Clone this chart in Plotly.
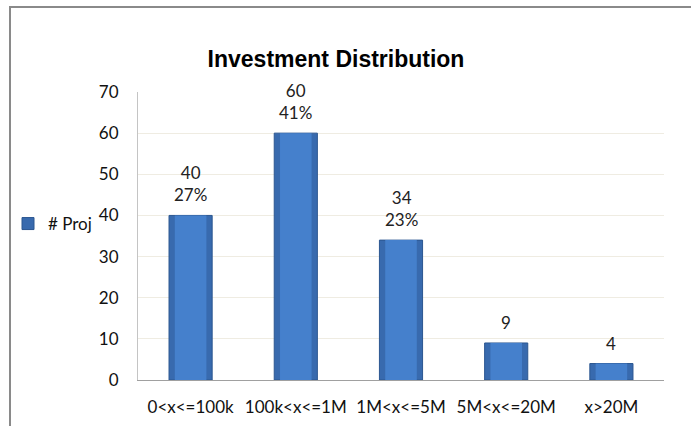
import plotly.graph_objects as go

categories = ["0<x<=100k", "100k<x<=1M", "1M<x<=5M", "5M<x<=20M", "x>20M"]
projects = [40, 60, 34, 9, 4]
percent_labels = ["27%", "41%", "23%", "", ""]
series_name = "# Proj"
title_text = "Investment Distribution"
y_ticks = [0, 10, 20, 30, 40, 50, 60, 70]

W, H = 691, 426
L, R, T, B = 138, 27, 92, 46
pw, ph = W - L - R, H - T - B

def px_x(p):
    return (p - L) / pw

def px_y(p):
    return (H - B - p) / ph

label_texts = [f"{v}<br>{p}" if p else f"{v}" for v, p in zip(projects, percent_labels)]

fig = go.Figure()
fig.add_trace(go.Bar(
    x=categories, y=projects, name=series_name, width=0.41,
    marker=dict(color="#386aae", line=dict(color="#2b5690", width=1)),
    showlegend=True,
))
fig.add_trace(go.Bar(
    x=categories, y=projects, width=0.30, showlegend=False, hoverinfo="skip",
    marker=dict(color="#4580cc", line=dict(width=0)),
))

for c, v, t in zip(categories, projects, label_texts):
    fig.add_annotation(x=c, y=v, text=t, showarrow=False, yanchor="bottom",
                       yshift=8, font=dict(family="Lato", size=17, color="#222"))

fig.add_shape(type="rect", xref="paper", yref="paper",
              x0=px_x(10), x1=px_x(720), y0=px_y(460), y1=px_y(7),
              line=dict(color="#8a8a8a", width=2), fillcolor="rgba(0,0,0,0)", layer="above")

fig.update_layout(
    width=W, height=H, barmode="overlay",
    margin=dict(l=L, r=R, t=T, b=B, autoexpand=False),
    paper_bgcolor="white", plot_bgcolor="white",
    font=dict(family="Lato", size=17, color="#111"),
    title=dict(text=title_text, x=336 / W, xanchor="center", y=1 - 59 / H, yanchor="middle",
               font=dict(family="Liberation Sans", size=23, color="black", weight="bold")),
    legend=dict(x=px_x(8), xanchor="left", y=px_y(224), yanchor="middle",
                font=dict(family="Lato", size=17, color="#111"), bgcolor="rgba(0,0,0,0)",
                itemwidth=30),
    xaxis=dict(showline=True, linecolor="#a0a0a0", linewidth=1, showgrid=False,
               ticks="", ticklabelstandoff=12, tickfont=dict(size=17), automargin=False),
    yaxis=dict(range=[0, 70], tickvals=y_ticks, showline=True, linecolor="#c4c4c4",
               linewidth=1, showgrid=True, gridcolor="#efece2", gridwidth=1,
               ticks="", ticklabelstandoff=15, zeroline=False, tickfont=dict(size=17),
               automargin=False),
)

fig.write_html("out.html")
